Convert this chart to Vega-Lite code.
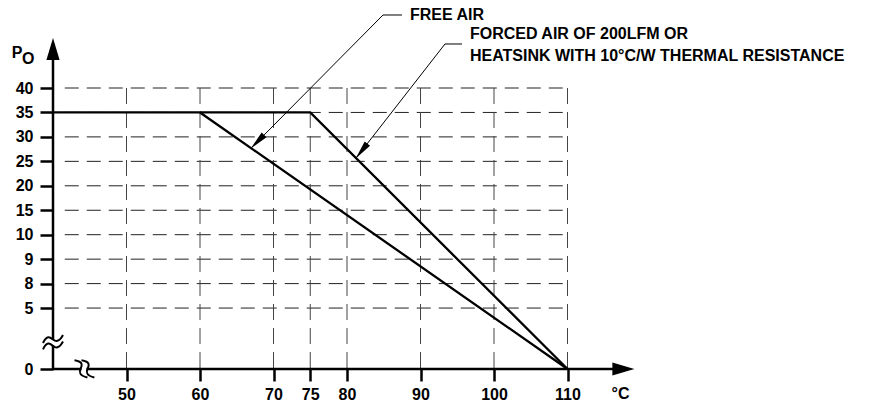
{
  "$schema": "https://vega.github.io/schema/vega-lite/v6.json",
  "width": 588,
  "height": 331,
  "autosize": {"type": "none"},
  "padding": {"left": 53, "top": 38, "right": 233, "bottom": 40},
  "background": "white",
  "config": {"view": {"stroke": null}, "font": "Liberation Sans"},
  "encoding": {
    "x": {
      "field": "x", "type": "quantitative",
      "scale": {"domain": [40, 120], "nice": false, "zero": false},
      "axis": {
        "values": [50, 60, 70, 75, 80, 90, 100, 110], "domain": false, "grid": false,
        "tickSize": 12, "tickWidth": 2.5, "tickColor": "black",
        "labelFont": "Liberation Sans", "labelFontWeight": "bold", "labelFontSize": 16,
        "labelColor": "black", "labelPadding": 5, "labelFlush": false, "labelOverlap": false, "title": null
      }
    },
    "y": {
      "field": "y", "type": "quantitative",
      "scale": {
        "domain": [0, 5, 8, 9, 10, 15, 20, 25, 30, 35, 40],
        "range": [331, 270.05, 245.6, 221.15, 196.7, 172.25, 147.8, 123.35, 98.9, 74.45, 50],
        "nice": false, "zero": false
      },
      "axis": {
        "values": [0, 5, 8, 9, 10, 15, 20, 25, 30, 35, 40], "domain": false, "grid": false,
        "tickSize": 13, "tickWidth": 2.5, "tickColor": "black",
        "labelFont": "Liberation Sans", "labelFontWeight": "bold", "labelFontSize": 16,
        "labelColor": "black", "labelPadding": 7, "labelFlush": false, "labelOverlap": false, "title": null
      }
    }
  },
  "layer": [
    {
      "data": {"values": [
        {"x": 41.6, "x2": 110, "y": 5, "y2": 5},
        {"x": 41.6, "x2": 110, "y": 8, "y2": 8},
        {"x": 41.6, "x2": 110, "y": 9, "y2": 9},
        {"x": 41.6, "x2": 110, "y": 10, "y2": 10},
        {"x": 41.6, "x2": 110, "y": 15, "y2": 15},
        {"x": 41.6, "x2": 110, "y": 20, "y2": 20},
        {"x": 41.6, "x2": 110, "y": 25, "y2": 25},
        {"x": 41.6, "x2": 110, "y": 30, "y2": 30},
        {"x": 41.6, "x2": 110, "y": 35, "y2": 35},
        {"x": 41.6, "x2": 110, "y": 40, "y2": 40}
      ]},
      "mark": {"type": "rule", "stroke": "#222222", "strokeWidth": 1, "strokeDash": [14, 8]},
      "encoding": {"x2": {"field": "x2"}, "y2": {"field": "y2"}}
    },
    {
      "data": {"values": [
        {"x": 50, "x2": 50, "y": 40, "y2": 0},
        {"x": 60, "x2": 60, "y": 40, "y2": 0},
        {"x": 70, "x2": 70, "y": 40, "y2": 0},
        {"x": 75, "x2": 75, "y": 40, "y2": 0},
        {"x": 80, "x2": 80, "y": 40, "y2": 0},
        {"x": 90, "x2": 90, "y": 40, "y2": 0},
        {"x": 100, "x2": 100, "y": 40, "y2": 0},
        {"x": 110, "x2": 110, "y": 40, "y2": 0}
      ]},
      "mark": {"type": "rule", "stroke": "#444444", "strokeWidth": 1, "strokeDash": [16, 8]},
      "encoding": {"x2": {"field": "x2"}, "y2": {"field": "y2"}}
    },
    {
      "data": {"values": [
        {"x": 40, "x2": 40, "y": 0, "y2": 1.97},
        {"x": 40, "x2": 40, "y": 2.38, "y2": 46},
        {"x": 40, "x2": 43.88, "y": 0, "y2": 0},
        {"x": 44.56, "x2": 116.3, "y": 0, "y2": 0}
      ]},
      "mark": {"type": "rule", "stroke": "black", "strokeWidth": 2.5},
      "encoding": {"x2": {"field": "x2"}, "y2": {"field": "y2"}}
    },
    {
      "data": {"values": [
        {"series": "FREE AIR", "x": 40, "y": 35},
        {"series": "FREE AIR", "x": 60, "y": 35},
        {"series": "FREE AIR", "x": 110, "y": 0},
        {"series": "FORCED AIR", "x": 60, "y": 35},
        {"series": "FORCED AIR", "x": 75, "y": 35},
        {"series": "FORCED AIR", "x": 110, "y": 0}
      ]},
      "mark": {"type": "line", "stroke": "black", "strokeWidth": 2.3},
      "encoding": {"detail": {"field": "series"}}
    },
    {
      "data": {"values": [
        {"x": 84.9, "x2": 87.48, "y": 54.93, "y2": 54.93},
        {"x": 84.9, "x2": 66.9, "y": 54.93, "y2": 27.63},
        {"x": 93.33, "x2": 95.65, "y": 49.0, "y2": 49.0},
        {"x": 93.33, "x2": 81.18, "y": 49.0, "y2": 25.58}
      ]},
      "mark": {"type": "rule", "stroke": "black", "strokeWidth": 1},
      "encoding": {"x2": {"field": "x2"}, "y2": {"field": "y2"}}
    },
    {
      "data": {"values": [{"x": 66.9, "y": 27.63}]},
      "mark": {"type": "point", "shape": "M0,0L0.18,1L-0.18,1Z", "size": 1444, "angle": 224.6, "filled": true, "color": "black", "opacity": 1, "strokeWidth": 0}
    },
    {
      "data": {"values": [{"x": 81.18, "y": 25.58}]},
      "mark": {"type": "point", "shape": "M0,0L0.18,1L-0.18,1Z", "size": 1444, "angle": 218, "filled": true, "color": "black", "opacity": 1, "strokeWidth": 0}
    },
    {
      "data": {"values": [{"x": 40, "y": 48}]},
      "mark": {"type": "point", "shape": "M0,-1L0.6,1L-0.6,1Z", "size": 484, "filled": true, "color": "black", "opacity": 1, "strokeWidth": 0}
    },
    {
      "data": {"values": [{"x": 117.6, "y": 0}]},
      "mark": {"type": "point", "shape": "M1,0L-1,-0.6L-1,0.6Z", "size": 484, "filled": true, "color": "black", "opacity": 1, "strokeWidth": 0}
    },
    {
      "data": {"values": [{"x": 40, "y": 2.42}, {"x": 40, "y": 1.89}]},
      "mark": {"type": "point", "shape": "M-1,0.35C-0.6,-0.55 -0.25,-0.2 0,0C0.25,0.2 0.6,0.3 1,-0.45", "size": 400, "filled": false, "color": "black", "opacity": 1, "strokeWidth": 2}
    },
    {
      "data": {"values": [{"x": 43.74, "y": 0}, {"x": 44.69, "y": 0}]},
      "mark": {"type": "point", "shape": "M-1,0.35C-0.6,-0.55 -0.25,-0.2 0,0C0.25,0.2 0.6,0.3 1,-0.45", "size": 400, "angle": 75, "filled": false, "color": "black", "opacity": 1, "strokeWidth": 2}
    },
    {
      "data": {"values": [
        {"x": 88.57, "y": 54.93, "label": "FREE AIR"},
        {"x": 96.73, "y": 51.04, "label": "FORCED AIR OF 200LFM OR"},
        {"x": 96.73, "y": 46.54, "label": "HEATSINK WITH 10°C/W THERMAL RESISTANCE"},
        {"x": 116.0, "y": -2.05, "label": "°C"}
      ]},
      "mark": {"type": "text", "align": "left", "baseline": "middle", "font": "Liberation Sans", "fontWeight": "bold", "fontSize": 16, "color": "black"},
      "encoding": {"text": {"field": "label"}}
    },
    {
      "data": {"values": [{"x": 35.1, "y": 47.16, "label": "P"}]},
      "mark": {"type": "text", "align": "center", "baseline": "middle", "font": "Liberation Sans", "fontWeight": "bold", "fontSize": 16, "color": "black"},
      "encoding": {"text": {"field": "label"}}
    },
    {
      "data": {"values": [{"x": 36.63, "y": 46.03, "label": "O"}]},
      "mark": {"type": "text", "align": "center", "baseline": "middle", "font": "Liberation Sans", "fontWeight": "bold", "fontSize": 16, "color": "black"},
      "encoding": {"text": {"field": "label"}}
    }
  ]
}
